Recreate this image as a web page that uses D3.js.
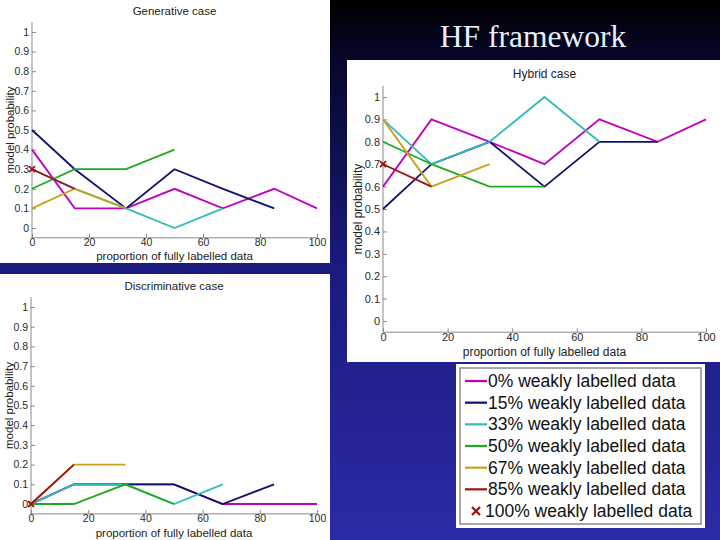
<!DOCTYPE html>
<html>
<head>
<meta charset="utf-8">
<script src="https://cdn.jsdelivr.net/npm/d3@7"></script>
<style>
  body { margin: 0; background: #000; }
  svg { display: block; }
  text { font-family: "Liberation Sans", Arial, sans-serif; }
</style>
</head>
<body>
<div class="slide"></div>
<script>
'use strict';

// proportion of fully labelled data
const xValues = [0, 15, 33, 50, 67, 85, 100];
const xTicks = [0, 20, 40, 60, 80, 100];
const yTicks = [0, 0.1, 0.2, 0.3, 0.4, 0.5, 0.6, 0.7, 0.8, 0.9, 1];

const seriesNames = [
  "0% weakly labelled data",
  "15% weakly labelled data",
  "33% weakly labelled data",
  "50% weakly labelled data",
  "67% weakly labelled data",
  "85% weakly labelled data",
  "100% weakly labelled data"
];

// model probability per series (last one is the single x marker)
const generativeValues = [
  [0.4, 0.1, 0.1, 0.2, 0.1, 0.2, 0.1],
  [0.5, 0.3, 0.1, 0.3, 0.2, 0.1],
  [0.3, 0.2, 0.1, 0.0, 0.1],
  [0.2, 0.3, 0.3, 0.4],
  [0.1, 0.2, 0.1],
  [0.3, 0.2],
  [0.3]
];

const discriminativeValues = [
  [0, 0.1, 0.1, 0.1, 0, 0, 0],
  [0, 0.1, 0.1, 0.1, 0, 0.1],
  [0, 0.1, 0.1, 0, 0.1],
  [0, 0, 0.1, 0],
  [0, 0.2, 0.2],
  [0, 0.2],
  [0]
];

const hybridValues = [
  [0.6, 0.9, 0.8, 0.7, 0.9, 0.8, 0.9],
  [0.5, 0.7, 0.8, 0.6, 0.8, 0.8],
  [0.9, 0.7, 0.8, 1.0, 0.8],
  [0.8, 0.7, 0.6, 0.6],
  [0.9, 0.6, 0.7],
  [0.7, 0.6],
  [0.7]
];

const colors = ["#c000c0", "#10106e", "#30bcbc", "#20aa20", "#c8a020", "#a01010", "#a01010"];

let svg = d3.select('.slide').append('svg').attr('width', 720).attr('height', 540);

function drawBackground() {
  let grad = svg.append('defs').append('linearGradient')
    .attr('id', 'bg').attr('x1', 0).attr('y1', 0).attr('x2', 0).attr('y2', 1);
  grad.append('stop').attr('offset', '0%').attr('stop-color', '#000000');
  grad.append('stop').attr('offset', '10%').attr('stop-color', '#060628');
  grad.append('stop').attr('offset', '50%').attr('stop-color', '#1a1a80');
  grad.append('stop').attr('offset', '100%').attr('stop-color', '#2b2ba6');
  svg.append('rect').attr('width', 720).attr('height', 540).attr('fill', 'url(#bg)');

  svg.append('text')
    .attr('x', 533).attr('y', 47)
    .attr('text-anchor', 'middle')
    .style('font-family', '"Liberation Serif", "Times New Roman", serif')
    .style('font-size', '31.5px')
    .attr('fill', '#e8f0ff')
    .text('HF framework');
}

function drawPanel(p, values) {
  let g = svg.append('g').attr('transform', `translate(${p.x}, ${p.y})`);
  g.append('rect').attr('width', p.w).attr('height', p.h).attr('fill', '#fff');

  let xScale = d3.scaleLinear().domain([0, 100]).range([p.left, p.right]);
  let yScale = d3.scaleLinear().domain([0, 1]).range([p.y0, p.y1]);

  let xAxis = d3.axisBottom(xScale).tickValues(xTicks)
    .tickSizeInner(-4).tickSizeOuter(0).tickPadding(1);
  let yAxis = d3.axisLeft(yScale).tickValues(yTicks)
    .tickFormat(d3.format('~g'))
    .tickSizeInner(-4).tickSizeOuter(0).tickPadding(3);

  let gx = g.append('g')
    .attr('transform', `translate(0, ${yScale(-0.05)})`)
    .call(xAxis);
  gx.select('.domain').attr('d', `M${p.left},0H${p.right}`);

  let gy = g.append('g')
    .attr('transform', `translate(${p.left}, 0)`)
    .call(yAxis);
  gy.select('.domain').attr('d', `M0,${yScale(-0.05)}V${yScale(1.05)}`);

  [gx, gy].forEach((a) => {
    a.selectAll('.domain, line').attr('stroke', '#8a8a8a');
    a.selectAll('text').attr('fill', '#2a2a2a').style('font-size', p.tickFont + 'px');
  });

  let line = d3.line()
    .x((d, i) => xScale(xValues[i]))
    .y((d) => yScale(d));

  values.forEach((vals, s) => {
    if (vals.length > 1) {
      g.append('path')
        .attr('d', line(vals))
        .attr('fill', 'none')
        .attr('stroke', colors[s])
        .attr('stroke-width', 1.8);
    } else {
      let cx = xScale(xValues[0]), cy = yScale(vals[0]);
      g.append('path')
        .attr('d', `M${cx - 3},${cy - 3}L${cx + 3},${cy + 3}M${cx - 3},${cy + 3}L${cx + 3},${cy - 3}`)
        .attr('stroke', colors[s])
        .attr('stroke-width', 1.8);
    }
  });

  g.append('text')
    .attr('x', (p.left + p.right) / 2).attr('y', p.titleY)
    .attr('text-anchor', 'middle')
    .style('font-size', p.labelFont + 'px')
    .attr('fill', '#222')
    .text(p.title);

  g.append('text')
    .attr('x', (p.left + p.right) / 2).attr('y', p.xlabelY)
    .attr('text-anchor', 'middle')
    .style('font-size', p.labelFont + 'px')
    .attr('fill', '#222')
    .text('proportion of fully labelled data');

  g.append('text')
    .attr('transform', `translate(${p.ylabelX}, ${(yScale(0) + yScale(1)) / 2})rotate(-90)`)
    .attr('text-anchor', 'middle')
    .style('font-size', p.labelFont + 'px')
    .attr('fill', '#222')
    .text('model probability');
}

function drawLegend() {
  let g = svg.append('g').attr('transform', 'translate(456, 364)');
  g.append('rect').attr('width', 249).attr('height', 164).attr('fill', '#fff');
  g.append('rect').attr('x', 4).attr('y', 4).attr('width', 241).attr('height', 156)
    .attr('fill', 'none').attr('stroke', '#8a8a8a').attr('stroke-width', 1.5);

  let yPos = d3.scalePoint().domain(seriesNames).range([17, 147]);

  seriesNames.forEach((name, s) => {
    let y = yPos(name);
    if (s < seriesNames.length - 1) {
      g.append('line')
        .attr('x1', 9).attr('x2', 31).attr('y1', y).attr('y2', y)
        .attr('stroke', colors[s]).attr('stroke-width', 2.2);
    } else {
      g.append('path')
        .attr('d', `M${20 - 4},${y - 4}L${20 + 4},${y + 4}M${20 - 4},${y + 4}L${20 + 4},${y - 4}`)
        .attr('stroke', colors[s]).attr('stroke-width', 2.2);
    }
    g.append('text')
      .attr('x', s < seriesNames.length - 1 ? 32 : 29).attr('y', y + 6)
      .style('font-size', '17.5px')
      .attr('fill', '#111')
      .text(name);
  });
}

drawBackground();

drawPanel({
  x: 0, y: 0, w: 330, h: 263,
  left: 32, right: 317, y0: 228, y1: 32,
  title: 'Generative case', titleY: 15, xlabelY: 260, ylabelX: 14,
  tickFont: 10.5, labelFont: 11.5
}, generativeValues);

drawPanel({
  x: 0, y: 274, w: 330, h: 266,
  left: 31, right: 317, y0: 230, y1: 33,
  title: 'Discriminative case', titleY: 16, xlabelY: 263, ylabelX: 13,
  tickFont: 10.5, labelFont: 11.5
}, discriminativeValues);

drawPanel({
  x: 347, y: 60, w: 373, h: 302,
  left: 36, right: 359, y0: 261, y1: 37,
  title: 'Hybrid case', titleY: 18, xlabelY: 296, ylabelX: 15,
  tickFont: 11, labelFont: 12
}, hybridValues);

drawLegend();
</script>
</body>
</html>
